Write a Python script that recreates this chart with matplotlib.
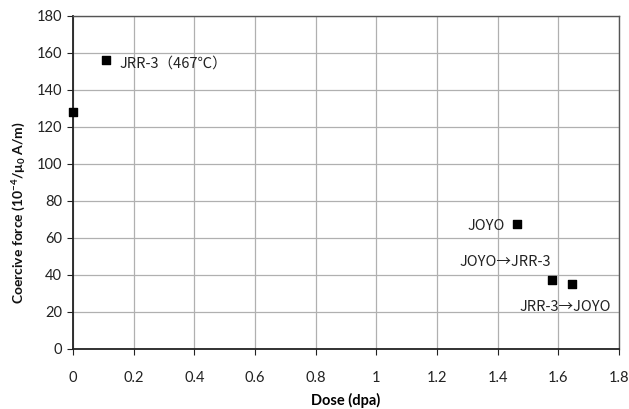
import matplotlib
matplotlib.use("Agg")
import matplotlib.pyplot as plt

plt.rcParams['font.family'] = ['Lato', 'Noto Sans CJK JP', 'DejaVu Sans']
plt.rcParams['mathtext.fontset'] = 'custom'
plt.rcParams['mathtext.rm'] = 'Lato'
plt.rcParams['mathtext.bf'] = 'Lato:bold'
plt.rcParams['mathtext.it'] = 'Lato:italic'

dose = [0.0, 0.11, 1.463, 1.578, 1.645]
coercive = [128, 156, 67.5, 37.3, 35]
labels = [None, "JRR-3（467℃）", "JOYO", "JOYO→JRR-3", "JRR-3→JOYO"]
label_offsets = [None, (13, -3), (-12, -2), (-46, 18), (-7, -23)]
label_ha = [None, 'left', 'right', 'center', 'center']

xticks = [0, 0.2, 0.4, 0.6, 0.8, 1, 1.2, 1.4, 1.6, 1.8]
xticklabels = ["0", "0.2", "0.4", "0.6", "0.8", "1", "1.2", "1.4", "1.6", "1.8"]
yticks = list(range(0, 181, 20))

fig = plt.figure(figsize=(6.29, 4.09), dpi=100)
ax = fig.add_axes([0.116, 0.147, 0.868, 0.814])

ax.scatter(dose, coercive, marker='s', s=36, color='black', zorder=3, clip_on=False)

for x, y, lab, off, ha in zip(dose, coercive, labels, label_offsets, label_ha):
    if lab is None:
        continue
    ax.annotate(lab, (x, y), xytext=off, textcoords='offset pixels',
                ha=ha, va='center', fontsize=10.5, color='#222222',
                family=['Noto Sans CJK JP', 'DejaVu Sans'])

ax.set_xlim(0, 1.8)
ax.set_ylim(0, 180)
ax.set_xticks(xticks)
ax.set_xticklabels(xticklabels)
ax.set_yticks(yticks)
ax.grid(True, color='#b0b0b0', linewidth=0.9)
ax.set_axisbelow(True)

for s in ['left', 'bottom']:
    ax.spines[s].set_color('#222222')
    ax.spines[s].set_linewidth(1.3)
for s in ['top', 'right']:
    ax.spines[s].set_color('#555555')
    ax.spines[s].set_linewidth(1.0)

ax.tick_params(axis='x', direction='out', length=4, pad=12, labelsize=10.5, colors='#222222')
ax.tick_params(axis='y', direction='out', length=4, pad=4, labelsize=10.5, colors='#222222')

ax.set_xlabel("Dose (dpa)", fontsize=10.5, fontweight='bold', labelpad=6)
fig.text(19 / 629, 1 - 213 / 409,
         r"Coercive force (10$^{\mathbf{-4}}$/$\mathbf{\mu_0}$ A/m)",
         rotation=90, ha='center', va='center', rotation_mode='anchor',
         fontsize=10, fontweight='bold', color='#111111')

fig.savefig("out.png", dpi=100)
